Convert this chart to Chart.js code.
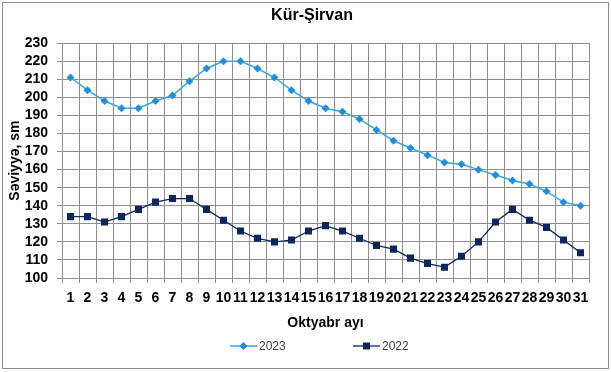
<!DOCTYPE html>
<html>
<head>
<meta charset="utf-8">
<script src="https://cdn.jsdelivr.net/npm/chart.js@4"></script>
<style>
    html, body { margin: 0; padding: 0; background: #fff; }
    #wrap { width: 611px; height: 372px; }
</style>
</head>
<body>
<div id="wrap"><canvas id="chart" width="611" height="372"></canvas></div>
<script>
// Oktyabr ayının günləri
const days = Array.from({ length: 31 }, (_, i) => String(i + 1));

const level2023 = [211, 204, 198, 194, 194, 198, 201, 209, 216, 220, 220, 216, 211, 204, 198, 194,
    192, 188, 182, 176, 172, 168, 164, 163, 160, 157, 154, 152, 148, 142, 140];
const level2022 = [134, 134, 131, 134, 138, 142, 144, 144, 138, 132, 126, 122, 120, 121, 126, 129,
    126, 122, 118, 116, 111, 108, 106, 112, 120, 131, 138, 132, 128, 121, 114];

const seriesNames = ['2023', '2022'];

const gridColor = '#8e8e8e';
const color2023 = '#3aa7e3';
const marker2023 = '#1f8fdc';
const color2022 = '#0d2660';

// frame round the whole chart + legend drawn like the excel one
const framePlugin = {
    id: 'frame',
    beforeDraw(chart) {
        const ctx = chart.ctx;
        ctx.save();
        ctx.fillStyle = '#fff';
        ctx.fillRect(0, 0, chart.width, chart.height);
        ctx.strokeStyle = gridColor;
        ctx.lineWidth = 1;
        ctx.strokeRect(2.5, 2.5, 606, 366);
        ctx.restore();
    },
    afterLayout(chart) {
        // excel centres the title a bit more to the right
        chart.titleBlock.left += 33;
    },
    afterDraw(chart) {
        const ctx = chart.ctx;
        const y = 346;
        const starts = [230, 353];
        ctx.save();
        ctx.font = '12px "Liberation Sans", Arial, sans-serif';
        ctx.textBaseline = 'middle';
        chart.data.datasets.forEach((ds, i) => {
            const x = starts[i];
            ctx.strokeStyle = ds.borderColor;
            ctx.lineWidth = ds.borderWidth;
            ctx.beginPath();
            ctx.moveTo(x, y);
            ctx.lineTo(x + 27, y);
            ctx.stroke();
            ctx.fillStyle = ds.pointBackgroundColor;
            const cx = x + 13.5;
            ctx.beginPath();
            if (ds.pointStyle === 'rectRot') {
                ctx.moveTo(cx, y - 4);
                ctx.lineTo(cx + 4, y);
                ctx.lineTo(cx, y + 4);
                ctx.lineTo(cx - 4, y);
                ctx.closePath();
            } else {
                ctx.rect(cx - 3.5, y - 3.5, 7, 7);
            }
            ctx.fill();
            ctx.fillStyle = '#404040';
            ctx.fillText(ds.label, x + 29, y + 1);
        });
        ctx.restore();
    }
};

new Chart(document.getElementById('chart'), {
    type: 'line',
    data: {
        labels: days,
        datasets: [
            {
                label: seriesNames[0],
                data: level2023,
                borderColor: color2023,
                backgroundColor: marker2023,
                borderWidth: 1.5,
                pointStyle: 'rectRot',
                pointRadius: 4,
                pointBackgroundColor: marker2023,
                pointBorderColor: marker2023,
                pointBorderWidth: 0,
                tension: 0,
                fill: false
            },
            {
                label: seriesNames[1],
                data: level2022,
                borderColor: color2022,
                backgroundColor: color2022,
                borderWidth: 1.3,
                pointStyle: 'rect',
                pointRadius: 5,
                pointBackgroundColor: color2022,
                pointBorderColor: color2022,
                pointBorderWidth: 0,
                tension: 0,
                fill: false
            }
        ]
    },
    options: {
        responsive: false,
        animation: false,
        layout: {
            padding: { left: 2, right: 22, top: 2, bottom: 40 }
        },
        scales: {
            x: {
                offset: true,
                grid: {
                    offset: true,
                    color: gridColor,
                    lineWidth: 1,
                    tickLength: 5
                },
                border: { color: gridColor },
                ticks: {
                    autoSkip: false,
                    maxRotation: 0,
                    minRotation: 0,
                    padding: 7,
                    color: '#000',
                    font: { family: '"Liberation Sans", Arial, sans-serif', size: 14, weight: 'bold' }
                },
                title: {
                    display: true,
                    text: 'Oktyabr ayı',
                    color: '#000',
                    padding: { top: 8, bottom: 0 },
                    font: { family: '"Liberation Sans", Arial, sans-serif', size: 14, weight: 'bold' }
                },
                afterFit(scale) {
                    scale.height = 54;
                }
            },
            y: {
                min: 100,
                max: 230,
                ticks: {
                    stepSize: 10,
                    autoSkip: false,
                    padding: 9,
                    color: '#000',
                    font: { family: '"Liberation Sans", Arial, sans-serif', size: 14, weight: 'bold' }
                },
                grid: {
                    color: gridColor,
                    lineWidth: 1,
                    tickLength: 5
                },
                border: { color: gridColor },
                title: {
                    display: true,
                    text: 'Səviyyə, sm',
                    color: '#000',
                    padding: { top: 5, bottom: 0 },
                    font: { family: '"Liberation Sans", Arial, sans-serif', size: 14, weight: 'bold' }
                },
                afterFit(scale) {
                    scale.width = 60;
                }
            }
        },
        plugins: {
            title: {
                display: true,
                text: 'Kür-Şirvan',
                color: '#000',
                padding: { top: 4, bottom: 18 },
                font: { family: '"Liberation Sans", Arial, sans-serif', size: 16, weight: 'bold' }
            },
            legend: { display: false },
            tooltip: { enabled: false }
        }
    },
    plugins: [framePlugin]
});
</script>
</body>
</html>
